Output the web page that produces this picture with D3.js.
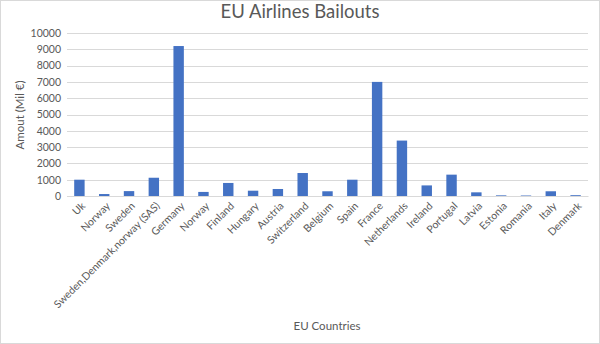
<!DOCTYPE html>
<html><head><meta charset="utf-8">
<script src="https://cdn.jsdelivr.net/npm/d3@7/dist/d3.min.js"></script>
<style>body{margin:0;background:#fff}svg{display:block}text{font-family:Lato,"Open Sans",sans-serif;fill:#595959}</style>
</head><body><svg id="c" width="600" height="344"></svg>
<script>
const categories = ["Uk","Norway","Sweden","Sweden,Denmark,norway (SAS)","Germany","Norway","Finland","Hungary","Austria","Switzerland","Belgium","Spain","France","Netherlands","Ireland","Portugal","Latvia","Estonia","Romania","Italy","Denmark"];
const values = [1000,120,300,1120,9200,250,800,325,430,1410,290,1000,7000,3400,650,1310,225,40,30,290,50];
const yTicks = [0,1000,2000,3000,4000,5000,6000,7000,8000,9000,10000];
const title = "EU Airlines Bailouts", xTitle = "EU Countries", yTitle = "Amout (Mil €)";

const svg = d3.select("#c");
svg.append("rect").attr("x",0.5).attr("y",0.5).attr("width",599).attr("height",343).attr("fill","#fff").attr("stroke","#d9d9d9");
const L=67,R=588,T=33,B=196;
const x = d3.scaleBand().domain(categories.map((d,i)=>i)).range([L,R]).paddingInner(0.58).paddingOuter(0.29);
const y = d3.scaleLinear().domain([0,10000]).range([B,T]);

const g = svg.append("g");
g.selectAll("line.grid").data(yTicks).join("line").attr("class","grid")
 .attr("x1",L).attr("x2",R).attr("y1",d=>Math.round(y(d))+0.5).attr("y2",d=>Math.round(y(d))+0.5)
 .attr("stroke","#d9d9d9").attr("stroke-width",1);
const yAxis = d3.axisLeft(y).tickValues(yTicks).tickSize(0).tickPadding(0).tickFormat(d3.format("d"));
const ya = svg.append("g").attr("transform",`translate(${L-6},0)`).call(yAxis);
ya.select(".domain").remove();
ya.selectAll("text").attr("font-size",10.5).attr("fill","#595959").style("font-family","Lato,'Open Sans',sans-serif");

g.selectAll("rect.bar").data(values).join("rect").attr("class","bar")
 .attr("x",(d,i)=>x(i)).attr("width",x.bandwidth())
 .attr("y",d=>y(d)).attr("height",d=>B-y(d)).attr("fill","#4472C4");

const xa = svg.append("g").attr("transform",`translate(0,${B})`).call(d3.axisBottom(x).tickSize(0).tickFormat(i=>categories[i]));
xa.select(".domain").attr("stroke","#d9d9d9");
xa.selectAll("text").attr("font-size",10.5).attr("text-anchor","end")
 .style("font-family","Lato,'Open Sans',sans-serif").attr("fill","#595959")
 .attr("transform","translate(4,8) rotate(-45)").attr("dy","0.35em").attr("y",0).attr("x",0);

svg.append("text").attr("x",300).attr("y",18).attr("text-anchor","middle").attr("font-size",18.5).text(title);
svg.append("text").attr("x",327).attr("y",330).attr("text-anchor","middle").attr("font-size",11.5).text(xTitle);
svg.append("text").attr("transform","translate(24,115) rotate(-90)").attr("text-anchor","middle").attr("font-size",11.5).text(yTitle);
</script></body></html>
